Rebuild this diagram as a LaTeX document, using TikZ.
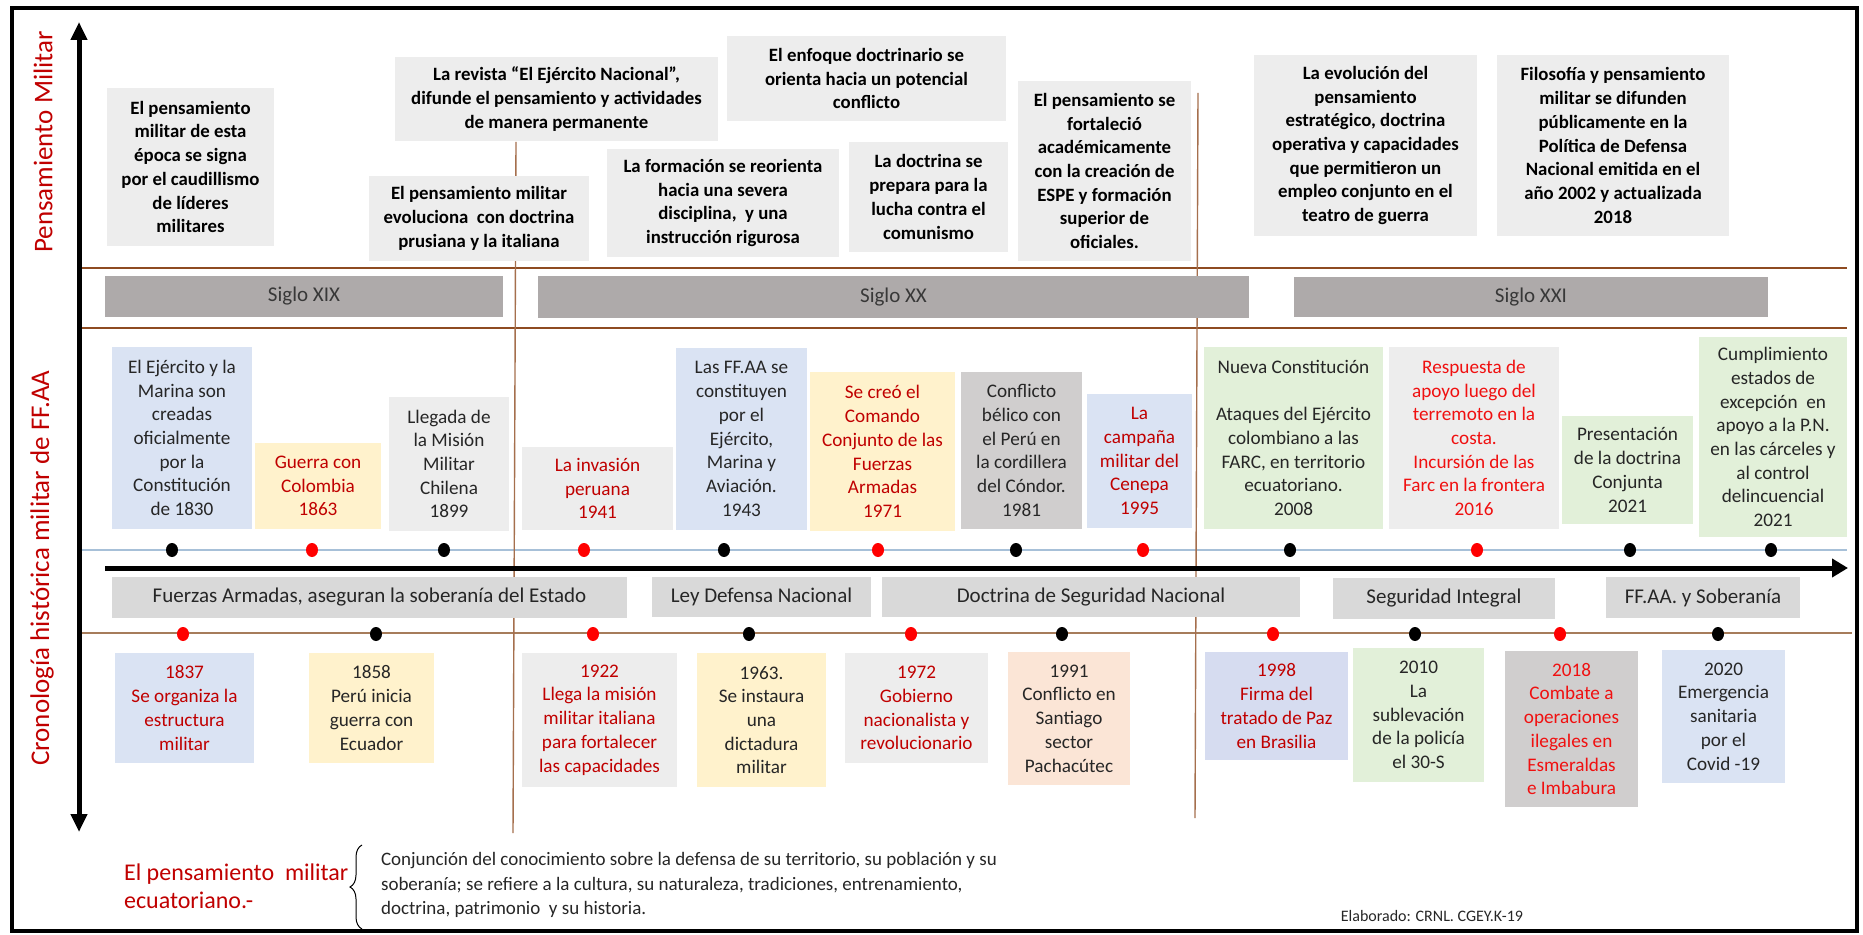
\documentclass[tikz,border=0pt]{standalone}
\usepackage{fontspec}
\setmainfont{Carlito}
\usepackage{tikz}
\usetikzlibrary{arrows.meta,shapes.geometric,decorations.pathreplacing}

\definecolor{boxgray}{HTML}{EDEDED}
\definecolor{boxdark}{HTML}{D0CECE}
\definecolor{boxblue}{HTML}{DAE3F3}
\definecolor{boxyellow}{HTML}{FFF2CC}
\definecolor{boxgreen}{HTML}{E2F0D9}
\definecolor{boxpeach}{HTML}{FBE5D6}
\definecolor{boxlav}{HTML}{D6DCF0}
\definecolor{siglofill}{HTML}{AEAAAA}
\definecolor{periodfill}{HTML}{D9D9D9}
\definecolor{linebrown}{HTML}{8E4B21}
\definecolor{lowbrown}{HTML}{A67C5B}
\definecolor{linebluegray}{HTML}{A7C0D8}
\definecolor{txtdark}{HTML}{262626}
\definecolor{txtred}{HTML}{C00000}
\definecolor{txtbright}{HTML}{F01010}
\definecolor{dotred}{HTML}{FF0000}

\newcommand{\boxfont}{\fontsize{9.6}{11.85}\selectfont}
\newcommand{\ideafont}{\bfseries\fontsize{9.4}{11.85}\selectfont}
\newcommand{\siglofont}{\fontsize{10.5}{12}\selectfont}
\newcommand{\periodfont}{\fontsize{10.5}{12}\selectfont}
\newcommand{\axisfont}{\fontsize{13.5}{15}\selectfont}

\tikzset{
  evbox/.style={inner sep=1pt, align=center, font=\boxfont, text=txtdark},
  ideabox/.style={inner sep=1pt, align=center, font=\ideafont, fill=boxgray, text=black},
  boxsize/.style 2 args={minimum width=#1pt, minimum height=#2pt},
  siglobox/.style={fill=siglofill, inner sep=0pt, font=\siglofont, text=black!78},
  periodbox/.style={fill=periodfill, inner sep=0pt, font=\periodfont, text=txtdark},
  evdot/.style={ellipse, minimum width=6pt, minimum height=7pt, inner sep=0pt},
  axislabel/.style={rotate=90, font=\axisfont, text=txtred},
  brownline/.style={draw=linebrown, line width=1.2pt},
  divline/.style={draw=linebrown!80, line width=0.7pt},
}

\begin{document}
\begin{tikzpicture}[x=0.5pt, y=-0.5pt]
    \useasboundingbox (0,0) rectangle (1863,935);

    % draw frame
    \draw[line width=1.8pt] (12,8) rectangle (1857,931);

    % draw guide lines
    \coordinate (ltop1) at (81,268);   \coordinate (rtop1) at (1847,268);
    \coordinate (ltop2) at (81,328);   \coordinate (rtop2) at (1847,328);
    \coordinate (lmid) at (81,550);    \coordinate (rmid) at (1847,550);
    \coordinate (llow) at (81,633);    \coordinate (rlow) at (1852,633);
    \draw[brownline] (ltop1) -- (rtop1);
    \draw[brownline] (ltop2) -- (rtop2);
    \draw[draw=linebluegray, line width=0.7pt] (lmid) -- (rmid);
    \draw[draw=lowbrown, line width=0.8pt] (llow) -- (rlow);

    % draw vertical dividers
    \coordinate (vonetop) at (516,142);  \coordinate (vonebot) at (513,833);
    \coordinate (vtwotop) at (1198,93);  \coordinate (vtwobot) at (1195,818);
    \draw[divline] (vonetop) -- (vonebot);
    \draw[divline] (vtwotop) -- (vtwobot);

    % draw axes
    \coordinate (ytop) at (79,22);   \coordinate (ybot) at (79,832);
    \coordinate (tstart) at (105,568);  \coordinate (tend) at (1848,568);
    \draw[line width=2.5pt, {Triangle[length=9pt,width=8pt]}-{Triangle[length=9pt,width=8pt]}] (ybot) -- (ytop);
    \draw[line width=2.5pt, -{Triangle[length=8pt,width=9pt]}] (tstart) -- (tend);

    % draw axis labels
    \node[axislabel] (lblthought) at (43,142) {Pensamiento Militar};
    \node[axislabel] (lblchrono) at (42,568) {Cronología histórica militar de FF.AA};

    % draw thought boxes
    \node[ideabox, boxsize={83.5}{79}] (a1) at (190.5,167) {El pensamiento\\militar de esta\\época se signa\\por el caudillismo\\de líderes\\militares};
    \node[ideabox, boxsize={161.5}{42}] (a2) at (556.5,99) {La revista “El Ejército Nacional”,\\difunde el pensamiento y actividades\\de manera permanente};
    \node[ideabox, boxsize={110}{42.5}] (a3) at (479,218.5) {El pensamiento militar\\evoluciona~ con doctrina\\prusiana y la italiana};
    \node[ideabox, boxsize={139.5}{42.5}] (a4) at (866.5,78.5) {El enfoque doctrinario se\\orienta hacia un potencial\\conflicto};
    \node[ideabox, boxsize={116}{54}] (a5) at (723,203) {La formación se reorienta\\hacia una severa\\disciplina,~ y una\\instrucción rigurosa};
    \node[ideabox, boxsize={79.5}{55}] (a6) at (928.5,197) {La doctrina se\\prepara para la\\lucha contra el\\comunismo};
    \node[ideabox, boxsize={86.5}{90}] (a7) at (1104.5,171) {El pensamiento se\\fortaleció\\académicamente\\con la creación de\\ESPE y formación\\superior de\\oficiales.};
    \node[ideabox, boxsize={111.5}{90.5}] (a8) at (1365.5,145.5) {La evolución del\\pensamiento\\estratégico, doctrina\\operativa y capacidades\\que permitieron un\\empleo conjunto en el\\teatro de guerra};
    \node[ideabox, boxsize={116}{90.5}] (a9) at (1613,145.5) {Filosofía y pensamiento\\militar se difunden\\públicamente en la\\Política de Defensa\\Nacional emitida en el\\año 2002 y actualizada\\2018};

    % draw centuries
    \node[siglobox, boxsize={199}{20.5}] (s19) at (304,296.5) {Siglo XIX};
    \node[siglobox, boxsize={355.5}{21}] (s20) at (893.5,297) {Siglo XX};
    \node[siglobox, boxsize={237}{20}] (s21) at (1531,297) {Siglo XXI};

    % draw upper events
    \node[evbox, boxsize={70}{91}, fill=boxblue] (b1) at (182,438) {El Ejército y la\\Marina son\\creadas\\oficialmente\\por la\\Constitución\\de 1830};
    \node[evbox, boxsize={63}{43}, fill=boxyellow, text=txtred] (b2) at (318,486) {Guerra con\\Colombia\\1863};
    \node[evbox, boxsize={60}{67}, fill=boxgray] (b3) at (449,464) {Llegada de\\la Misión\\Militar\\Chilena\\1899};
    \node[evbox, boxsize={75.5}{41.5}, fill=boxgray, text=txtred] (b4) at (597.5,488.5) {La invasión\\peruana\\1941};
    \node[evbox, boxsize={65.5}{91}, fill=boxblue] (b5) at (741.5,439) {Las FF.AA se\\constituyen\\por el\\Ejército,\\Marina y\\Aviación.\\1943};
    \node[evbox, boxsize={72.5}{79.5}, fill=boxyellow, text=txtred] (b6) at (882.5,451.5) {Se creó el\\Comando\\Conjunto de las\\Fuerzas\\Armadas\\1971};
    \node[evbox, boxsize={60.5}{78.5}, fill=boxdark] (b7) at (1021.5,450.5) {Conflicto\\bélico con\\el Perú en\\la cordillera\\del Cóndor.\\1981};
    \node[evbox, boxsize={52.5}{67}, fill=boxblue, text=txtred] (b8) at (1139.5,461) {La\\campaña\\militar del\\Cenepa\\1995};
    \node[evbox, boxsize={89.5}{91}, fill=boxgreen] (b9) at (1293.5,438) {Nueva Constitución\\[11.85pt]Ataques del Ejército\\colombiano a las\\FARC, en territorio\\ecuatoriano.\\2008};
    \node[evbox, boxsize={85}{91}, fill=boxgray, text=txtbright] (b10) at (1474,438) {Respuesta de\\apoyo luego del\\terremoto en la\\costa.\\Incursión de las\\Farc en la frontera\\2016};
    \node[evbox, boxsize={65.5}{54}, fill=boxgreen] (b11) at (1627.5,470) {Presentación\\de la doctrina\\Conjunta\\2021};
    \node[evbox, boxsize={74}{100}, fill=boxgreen] (b12) at (1773,437) {Cumplimiento\\estados de\\excepción~ en\\apoyo a la P.N.\\en las cárceles y\\al control\\delincuencial\\2021};

    % draw upper dots
    \foreach \x/\c [count=\i] in {172/black,312/dotred,444/black,584/dotred,724/black,878/dotred,1016/black,1143/dotred,1290/black,1477/dotred,1630/black,1771/black}
    \node[evdot, fill=\c] (u\i) at (\x,550) {};

    % draw periods
    \node[periodbox, boxsize={257.5}{20.5}] (p1) at (369.5,597.5) {Fuerzas Armadas, aseguran la soberanía del Estado};
    \node[periodbox, boxsize={109.5}{20}] (p2) at (761.5,597) {Ley Defensa Nacional};
    \node[periodbox, boxsize={209}{20}] (p3) at (1091,597) {Doctrina de Seguridad Nacional};
    \node[periodbox, boxsize={111}{20.5}] (p4) at (1444,598.5) {Seguridad Integral};
    \node[periodbox, boxsize={97}{20.5}] (p5) at (1703,597.5) {FF.AA. y Soberanía};

    % draw lower dots
    \foreach \x/\c [count=\i] in {183/dotred,376/black,593/dotred,749/black,911/dotred,1062/black,1273/dotred,1415/black,1560/dotred,1718/black}
    \node[evdot, fill=\c] (d\i) at (\x,634) {};

    % draw lower events
    \node[evbox, boxsize={69.5}{55}, fill=boxblue, text=txtred] (c1) at (184.5,708) {1837\\Se organiza la\\estructura\\militar};
    \node[evbox, boxsize={62.5}{55}, fill=boxyellow] (c2) at (371.5,708) {1858\\Perú inicia\\guerra con\\Ecuador};
    \node[evbox, boxsize={77.5}{67}, fill=boxgray, text=txtred] (c3) at (599.5,720) {1922\\Llega la misión\\militar italiana\\para fortalecer\\las capacidades};
    \node[evbox, boxsize={64.5}{67}, fill=boxyellow] (c4) at (761.5,720) {1963.\\Se instaura\\una\\dictadura\\militar};
    \node[evbox, boxsize={71.5}{55}, fill=boxgray, text=txtred] (c5) at (916.5,708) {1972\\Gobierno\\nacionalista y\\revolucionario};
    \node[evbox, boxsize={61}{66.5}, fill=boxpeach] (c6) at (1069,718.5) {1991\\Conflicto en\\Santiago\\sector\\Pachacútec};
    \node[evbox, boxsize={71.5}{54}, fill=boxlav, text=txtred] (c7) at (1276.5,706) {1998\\Firma del\\tratado de Paz\\en Brasilia};
    \node[evbox, boxsize={65.5}{67}, fill=boxgreen] (c8) at (1418.5,715) {2010\\La\\sublevación\\de la policía\\el 30-S};
    \node[evbox, boxsize={66.5}{78}, fill=boxdark, text=txtbright] (c9) at (1571.5,729) {2018\\Combate a\\operaciones\\ilegales en\\Esmeraldas\\e Imbabura};
    \node[evbox, boxsize={61.5}{66.5}, fill=boxblue] (c10) at (1723.5,716.5) {2020\\Emergencia\\sanitaria\\por el\\Covid -19};

    % draw definition
    \node[anchor=west, align=left, text=txtred, font=\fontsize{12}{14}\selectfont] (deftitle) at (117,886) {El pensamiento~ militar\\ecuatoriano.-};
    \coordinate (brbot) at (362,929);  \coordinate (brtop) at (362,845);
    \draw[line width=0.5pt, decorate, decoration={brace, amplitude=6pt}] (brbot) -- (brtop);
    \node[anchor=west, align=left, text=txtdark, font=\fontsize{9.5}{12.25}\selectfont] (deftext) at (374,885) {Conjunción del conocimiento sobre la defensa de su territorio, su población y su\\soberanía; se refiere a la cultura, su naturaleza, tradiciones, entrenamiento,\\doctrina, patrimonio~ y su historia.};
    \node[text=txtdark, font=\fontsize{8}{9}\selectfont] (credit) at (1432,916) {Elaborado: CRNL. CGEY.K-19};

  \end{tikzpicture}
\end{document}
